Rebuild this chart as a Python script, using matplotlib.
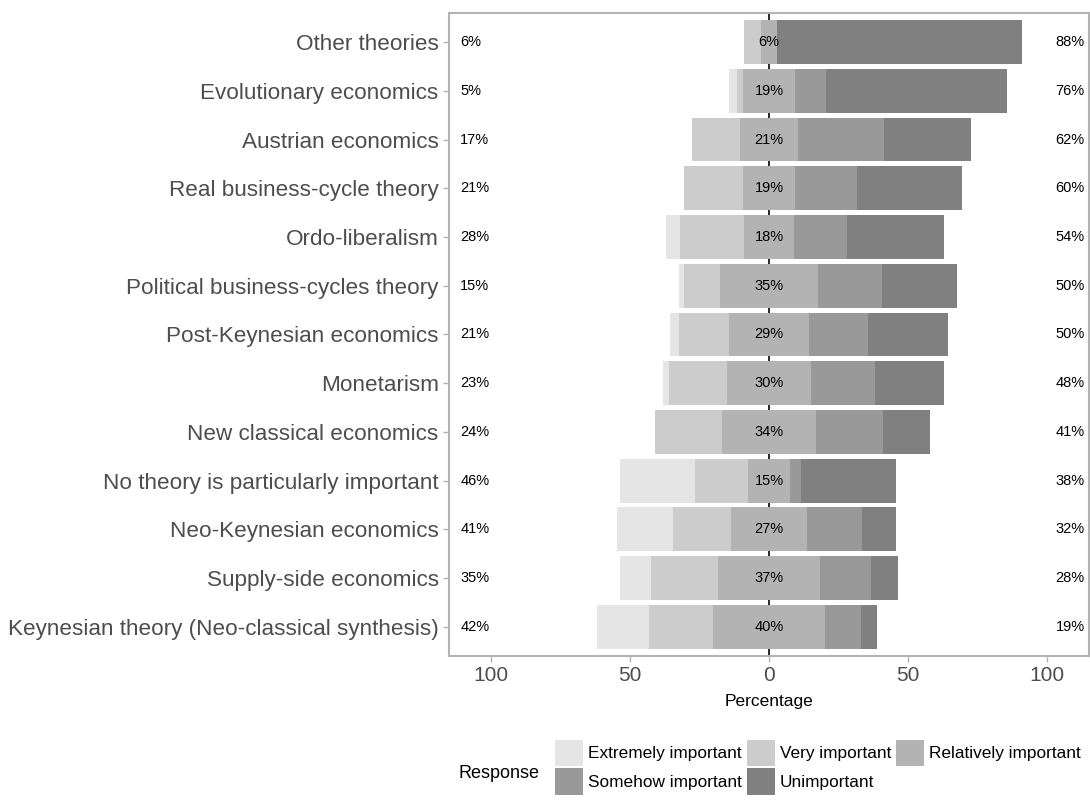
import numpy as np
import matplotlib
matplotlib.use("Agg")
import matplotlib.pyplot as plt
from matplotlib.patches import Patch

plt.rcParams['font.family'] = ['Liberation Sans', 'DejaVu Sans']

# theories, top to bottom
theories = ["Other theories", "Evolutionary economics", "Austrian economics",
            "Real business-cycle theory", "Ordo-liberalism",
            "Political business-cycles theory", "Post-Keynesian economics",
            "Monetarism", "New classical economics",
            "No theory is particularly important", "Neo-Keynesian economics",
            "Supply-side economics", "Keynesian theory (Neo-classical synthesis)"]

extremely = [0, 3, 0, 0, 5, 2, 3, 2, 0, 27, 20, 11, 19]
very = [6, 2, 17, 21, 23, 13, 18, 21, 24, 19, 21, 24, 23]
relatively = [6, 19, 21, 19, 18, 35, 29, 30, 34, 15, 27, 37, 40]
somehow = [0, 11, 31, 22, 19, 23, 21, 23, 24, 4, 20, 18, 13]
unimportant = [88, 65, 31, 38, 35, 27, 29, 25, 17, 34, 12, 10, 6]

responses = ["Extremely important", "Very important", "Relatively important",
             "Somehow important", "Unimportant"]
colors = ["#E5E5E5", "#CCCCCC", "#B3B3B3", "#999999", "#808080"]

ext = np.array(extremely)
ver = np.array(very)
rel = np.array(relatively)
som = np.array(somehow)
uni = np.array(unimportant)

n = len(theories)
y = np.arange(n)[::-1]

fig = plt.figure(figsize=(10.9, 8.02), dpi=100)
ax = fig.add_axes([0.412, 0.182, 0.587, 0.802])

ax.axvline(0, color="black", lw=1.2, zorder=0)

h = 0.9
half = rel / 2.0
ax.barh(y, ext, left=-half - ver - ext, height=h, color=colors[0], zorder=2)
ax.barh(y, ver, left=-half - ver, height=h, color=colors[1], zorder=2)
ax.barh(y, rel, left=-half, height=h, color=colors[2], zorder=2)
ax.barh(y, som, left=half, height=h, color=colors[3], zorder=2)
ax.barh(y, uni, left=half + som, height=h, color=colors[4], zorder=2)

# percent labels: left, centre, right
for i in range(n):
    ax.text(-111, y[i], "%d%%" % round(ext[i] + ver[i]), ha="left", va="center",
            fontsize=10.5, zorder=3)
    ax.text(0, y[i], "%d%%" % round(rel[i]), ha="center", va="center",
            fontsize=10.5, zorder=3)
    ax.text(113.5, y[i], "%d%%" % round(som[i] + uni[i]), ha="right", va="center",
            fontsize=10.5, zorder=3)

ax.set_xlim(-115, 115)
ax.set_ylim(-0.6, n - 0.4)
ax.set_yticks(y)
ax.set_yticklabels(theories, fontsize=16.2, color="#4D4D4D")
ax.set_xticks([-100, -50, 0, 50, 100])
ax.set_xticklabels(["100", "50", "0", "50", "100"], fontsize=15, color="#4D4D4D")
ax.tick_params(axis="both", color="#B3B3B3", length=4, width=1)
ax.set_xlabel("Percentage", fontsize=12.5, labelpad=6)

for s in ax.spines.values():
    s.set_color("#B3B3B3")
    s.set_linewidth(1.5)

# legend laid out row by row
order = [0, 3, 1, 4, 2]
handles = [Patch(facecolor=colors[k], edgecolor="none") for k in order]
labels = [responses[k] for k in order]
fig.legend(handles, labels, ncol=3, loc="lower left", bbox_to_anchor=(0.5, -0.004),
           frameon=False, fontsize=12.4, handlelength=1.6, handleheight=2.0,
           handletextpad=0.3, columnspacing=0.3, labelspacing=0.12,
           borderpad=0.1)
fig.text(0.421, 0.036, "Response", fontsize=13, va="center", ha="left")

fig.savefig("out.png", dpi=100)
